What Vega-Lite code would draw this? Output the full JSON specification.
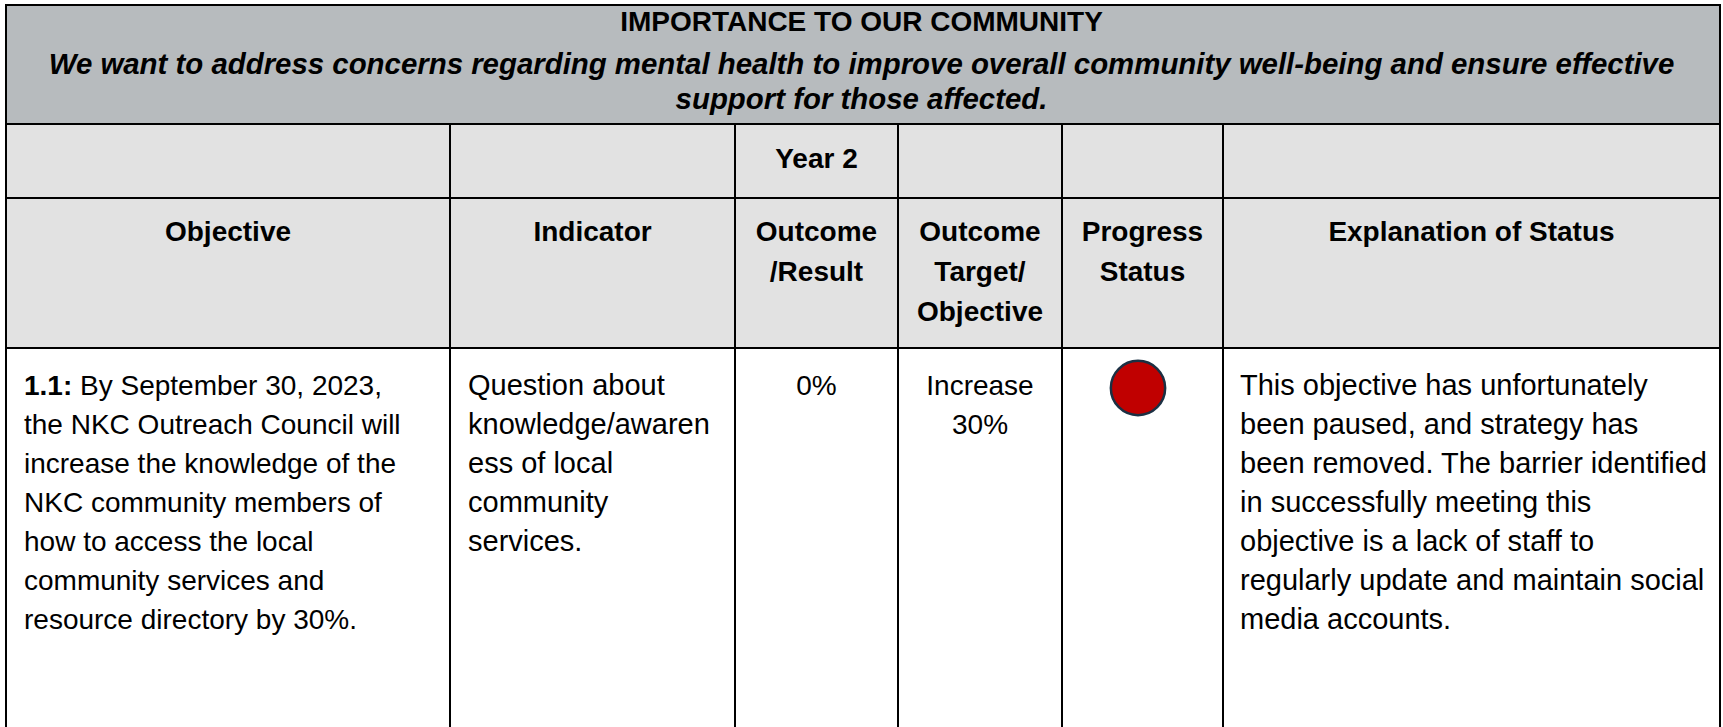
{
  "$schema": "https://vega.github.io/schema/vega-lite/v6.json",
  "width": 1723,
  "height": 727,
  "padding": 0,
  "autosize": {"type": "none"},
  "background": "#ffffff",
  "config": {"view": {"stroke": null}, "text": {"font": "Liberation Sans", "fontSize": 28, "color": "#000000"}},
  "datasets": {
    "cells": [
      {"c0": 0, "c1": 6, "r0": 0, "r1": 1, "section": "title"},
      {"c0": 0, "c1": 1, "r0": 1, "r1": 2, "section": "header"},
      {"c0": 1, "c1": 2, "r0": 1, "r1": 2, "section": "header"},
      {"c0": 2, "c1": 3, "r0": 1, "r1": 2, "section": "header"},
      {"c0": 3, "c1": 4, "r0": 1, "r1": 2, "section": "header"},
      {"c0": 4, "c1": 5, "r0": 1, "r1": 2, "section": "header"},
      {"c0": 5, "c1": 6, "r0": 1, "r1": 2, "section": "header"},
      {"c0": 0, "c1": 1, "r0": 2, "r1": 3, "section": "header"},
      {"c0": 1, "c1": 2, "r0": 2, "r1": 3, "section": "header"},
      {"c0": 2, "c1": 3, "r0": 2, "r1": 3, "section": "header"},
      {"c0": 3, "c1": 4, "r0": 2, "r1": 3, "section": "header"},
      {"c0": 4, "c1": 5, "r0": 2, "r1": 3, "section": "header"},
      {"c0": 5, "c1": 6, "r0": 2, "r1": 3, "section": "header"},
      {"c0": 0, "c1": 1, "r0": 3, "r1": 4, "section": "body"},
      {"c0": 1, "c1": 2, "r0": 3, "r1": 4, "section": "body"},
      {"c0": 2, "c1": 3, "r0": 3, "r1": 4, "section": "body"},
      {"c0": 3, "c1": 4, "r0": 3, "r1": 4, "section": "body"},
      {"c0": 4, "c1": 5, "r0": 3, "r1": 4, "section": "body"},
      {"c0": 5, "c1": 6, "r0": 3, "r1": 4, "section": "body"}
    ],
    "texts": [
      {"kind": "title", "col": 0, "row": 0, "text": "IMPORTANCE TO OUR COMMUNITY"},
      {"kind": "subtitle", "col": 0, "row": 0, "text": "We want to address concerns regarding mental health to improve overall community well-being and ensure effective\nsupport for those affected."},
      {"kind": "head", "col": 2, "row": 1, "text": "Year 2"},
      {"kind": "head", "col": 0, "row": 2, "text": "Objective"},
      {"kind": "head", "col": 1, "row": 2, "text": "Indicator"},
      {"kind": "head", "col": 2, "row": 2, "text": "Outcome\n/Result"},
      {"kind": "head", "col": 3, "row": 2, "text": "Outcome\nTarget/\nObjective"},
      {"kind": "head", "col": 4, "row": 2, "text": "Progress\nStatus"},
      {"kind": "head", "col": 5, "row": 2, "text": "Explanation of Status"},
      {"kind": "label", "col": 0, "row": 3, "text": "1.1:"},
      {"kind": "labelrest", "col": 0, "row": 3, "text": "By September 30, 2023,"},
      {"kind": "cont", "col": 0, "row": 3, "text": "the NKC Outreach Council will\nincrease the knowledge of the\nNKC community members of\nhow to access the local\ncommunity services and\nresource directory by 30%."},
      {"kind": "left", "col": 1, "row": 3, "text": "Question about\nknowledge/awaren\ness of local\ncommunity\nservices."},
      {"kind": "center", "col": 2, "row": 3, "text": "0%"},
      {"kind": "center", "col": 3, "row": 3, "text": "Increase\n30%"},
      {"kind": "left", "col": 5, "row": 3, "text": "This objective has unfortunately\nbeen paused, and strategy has\nbeen removed. The barrier identified\nin successfully meeting this\nobjective is a lack of staff to\nregularly update and maintain social\nmedia accounts."}
    ],
    "status": [
      {"col": 4, "row": 3, "status": "Red"}
    ]
  },
  "layer": [
    {
      "data": {"name": "cells"},
      "mark": {"type": "rect", "stroke": "#000000", "strokeWidth": 2},
      "encoding": {
        "x": {"field": "c0", "type": "quantitative", "scale": {"domain": [0, 1, 2, 3, 4, 5, 6], "range": [6, 450, 735, 898, 1062, 1223, 1720], "nice": false, "zero": false}, "axis": null},
        "x2": {"field": "c1"},
        "y": {"field": "r0", "type": "quantitative", "scale": {"domain": [0, 1, 2, 3, 4], "range": [5, 124, 198, 348, 740], "nice": false, "zero": false}, "axis": null},
        "y2": {"field": "r1"},
        "fill": {"field": "section", "type": "nominal", "scale": {"domain": ["title", "header", "body"], "range": ["#b7bbbe", "#e2e2e2", "#ffffff"]}, "legend": null}
      }
    },
    {
      "data": {"name": "texts"},
      "transform": [{"filter": "datum.kind === 'title'"}],
      "mark": {"type": "text", "fontWeight": "bold", "align": "center", "baseline": "alphabetic"},
      "encoding": {
        "y": {"field": "row", "type": "quantitative", "scale": {"domain": [0, 1, 2, 3], "range": [31, 168, 241, 395], "nice": false, "zero": false}, "axis": null},
        "text": {"field": "text", "type": "nominal"}
      }
    },
    {
      "data": {"name": "texts"},
      "transform": [{"filter": "datum.kind === 'subtitle'"}],
      "mark": {"type": "text", "fontWeight": "bold", "fontStyle": "italic", "fontSize": 29.4, "align": "center", "baseline": "alphabetic", "lineBreak": "\n", "lineHeight": 34.5, "dy": 43},
      "encoding": {
        "y": {"field": "row", "type": "quantitative", "scale": {"domain": [0, 1, 2, 3], "range": [31, 168, 241, 395], "nice": false, "zero": false}, "axis": null},
        "text": {"field": "text", "type": "nominal"}
      }
    },
    {
      "data": {"name": "texts"},
      "transform": [{"filter": "datum.kind === 'head'"}],
      "mark": {"type": "text", "fontWeight": "bold", "align": "center", "baseline": "alphabetic", "lineBreak": "\n", "lineHeight": 40},
      "encoding": {
        "x": {"field": "col", "type": "quantitative", "scale": {"domain": [0, 1, 2, 3, 4, 5], "range": [228, 592.5, 816.5, 980, 1142.5, 1471.5], "nice": false, "zero": false}, "axis": null},
        "y": {"field": "row", "type": "quantitative", "scale": {"domain": [0, 1, 2, 3], "range": [31, 168, 241, 395], "nice": false, "zero": false}, "axis": null},
        "text": {"field": "text", "type": "nominal"}
      }
    },
    {
      "data": {"name": "texts"},
      "transform": [{"filter": "datum.kind === 'center'"}],
      "mark": {"type": "text", "align": "center", "baseline": "alphabetic", "lineBreak": "\n", "lineHeight": 39},
      "encoding": {
        "x": {"field": "col", "type": "quantitative", "scale": {"domain": [0, 1, 2, 3, 4, 5], "range": [228, 592.5, 816.5, 980, 1142.5, 1471.5], "nice": false, "zero": false}, "axis": null},
        "y": {"field": "row", "type": "quantitative", "scale": {"domain": [0, 1, 2, 3], "range": [31, 168, 241, 395], "nice": false, "zero": false}, "axis": null},
        "text": {"field": "text", "type": "nominal"}
      }
    },
    {
      "data": {"name": "texts"},
      "transform": [{"filter": "datum.kind === 'left'"}],
      "mark": {"type": "text", "align": "left", "baseline": "alphabetic", "fontSize": 29, "lineBreak": "\n", "lineHeight": 39},
      "encoding": {
        "x": {"field": "col", "type": "quantitative", "scale": {"domain": [0, 1, 5], "range": [24, 468, 1240], "nice": false, "zero": false}, "axis": null},
        "y": {"field": "row", "type": "quantitative", "scale": {"domain": [0, 1, 2, 3], "range": [31, 168, 241, 395], "nice": false, "zero": false}, "axis": null},
        "text": {"field": "text", "type": "nominal"}
      }
    },
    {
      "data": {"name": "texts"},
      "transform": [{"filter": "datum.kind === 'cont'"}],
      "mark": {"type": "text", "align": "left", "baseline": "alphabetic", "lineBreak": "\n", "lineHeight": 39, "dy": 39},
      "encoding": {
        "x": {"field": "col", "type": "quantitative", "scale": {"domain": [0, 1, 5], "range": [24, 468, 1240], "nice": false, "zero": false}, "axis": null},
        "y": {"field": "row", "type": "quantitative", "scale": {"domain": [0, 1, 2, 3], "range": [31, 168, 241, 395], "nice": false, "zero": false}, "axis": null},
        "text": {"field": "text", "type": "nominal"}
      }
    },
    {
      "data": {"name": "texts"},
      "transform": [{"filter": "datum.kind === 'label'"}],
      "mark": {"type": "text", "align": "left", "baseline": "alphabetic", "fontWeight": "bold"},
      "encoding": {
        "x": {"field": "col", "type": "quantitative", "scale": {"domain": [0, 1, 5], "range": [24, 468, 1240], "nice": false, "zero": false}, "axis": null},
        "y": {"field": "row", "type": "quantitative", "scale": {"domain": [0, 1, 2, 3], "range": [31, 168, 241, 395], "nice": false, "zero": false}, "axis": null},
        "text": {"field": "text", "type": "nominal"}
      }
    },
    {
      "data": {"name": "texts"},
      "transform": [{"filter": "datum.kind === 'labelrest'"}],
      "mark": {"type": "text", "align": "left", "baseline": "alphabetic", "dx": 56},
      "encoding": {
        "x": {"field": "col", "type": "quantitative", "scale": {"domain": [0, 1, 5], "range": [24, 468, 1240], "nice": false, "zero": false}, "axis": null},
        "y": {"field": "row", "type": "quantitative", "scale": {"domain": [0, 1, 2, 3], "range": [31, 168, 241, 395], "nice": false, "zero": false}, "axis": null},
        "text": {"field": "text", "type": "nominal"}
      }
    },
    {
      "data": {"name": "status"},
      "mark": {"type": "point", "shape": "circle", "filled": true, "size": 2950, "stroke": "#1b3043", "strokeWidth": 2.5, "opacity": 1},
      "encoding": {
        "x": {"field": "col", "type": "quantitative", "scale": {"domain": [0, 1, 2, 3, 4, 5], "range": [228, 592.5, 816.5, 980, 1138, 1471.5], "nice": false, "zero": false}, "axis": null},
        "y": {"field": "row", "type": "quantitative", "scale": {"domain": [0, 3], "range": [0, 388], "nice": false, "zero": false}, "axis": null},
        "fill": {"field": "status", "type": "nominal", "scale": {"domain": ["Red"], "range": ["#c00000"]}, "legend": null}
      }
    }
  ],
  "resolve": {"scale": {"x": "independent", "y": "independent", "fill": "independent"}}
}
